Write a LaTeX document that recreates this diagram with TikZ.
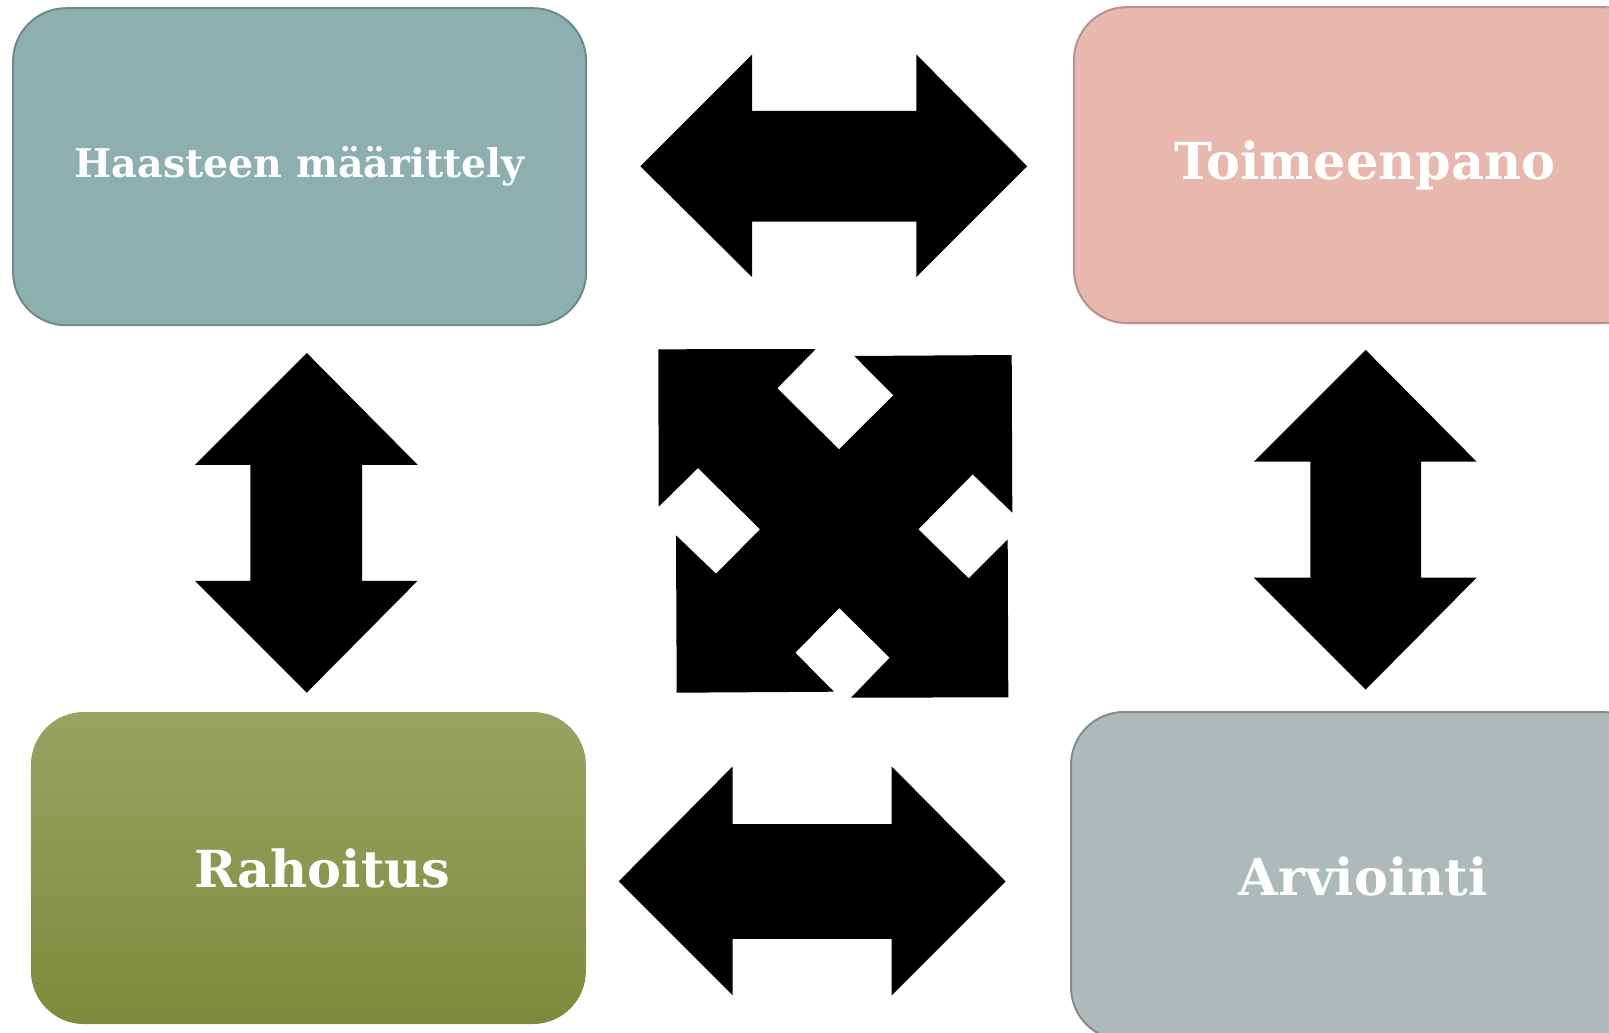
\documentclass[tikz,border=0pt]{standalone}
\usepackage{fontspec}
\setmainfont{DejaVu Serif}

\definecolor{tealfill}{RGB}{141,175,175}
\definecolor{tealline}{RGB}{109,139,138}
\definecolor{rosefill}{RGB}{232,184,175}
\definecolor{roseline}{RGB}{181,146,139}
\definecolor{olivetop}{RGB}{152,163,99}
\definecolor{olivebot}{RGB}{126,138,59}
\definecolor{greyfill}{RGB}{173,186,185}
\definecolor{greyline}{RGB}{127,142,141}

\tikzset{
  vaihe/.style={rectangle, rounded corners=53pt, inner sep=0pt, line width=2pt,
    text=white, font=\bfseries\fontsize{51}{60}\selectfont},
  nuoli/.style={fill=black},
}

\begin{document}
\begin{tikzpicture}[x=1pt, y=-1pt]
    \useasboundingbox (0,0) rectangle (1609,1033);

    % Laatikot
    \node[vaihe, fill=tealfill, draw=tealline, minimum width=573pt, minimum height=317pt,
        font=\bfseries\fontsize{39.5}{46}\selectfont] (haaste) at (299.6,166.7) {\raisebox{-5pt}{Haasteen määrittely}};
    \node[vaihe, fill=rosefill, draw=roseline, minimum width=582pt, minimum height=316pt] (toimeen) at (1365,165.1) {\raisebox{-6pt}{Toimeenpano}};
    \node[vaihe, top color=olivetop, bottom color=olivebot, minimum width=555pt, minimum height=312pt] (rahoitus) at (308.4,868) {\hspace*{28pt}\raisebox{-4pt}{Rahoitus}};
    \node[vaihe, fill=greyfill, draw=greyline, minimum width=584pt, minimum height=328pt] (arviointi) at (1363,876) {\raisebox{-2pt}{Arviointi}};

    % Vaakanuolet
    \fill[nuoli] (640.3,166.2) -- (752.1,54.4) -- (752.1,110.8) -- (916.3,110.8) -- (916.3,54.4) -- (1027.1,166.2)
        -- (916.3,277.1) -- (916.3,221.6) -- (752.1,221.6) -- (752.1,277.1) -- cycle; % ylhaalla
    \fill[nuoli] (618.7,881.4) -- (732.6,766.5) -- (732.6,824) -- (891.7,824) -- (891.7,766.5) -- (1005.6,881.4)
        -- (891.7,995.3) -- (891.7,938.9) -- (732.6,938.9) -- (732.6,995.3) -- cycle; % alhaalla

    % Pystynuolet
    \fill[nuoli] (306.8,353) -- (417.6,464.8) -- (362.2,464.8) -- (362.2,580.8) -- (417.6,580.8) -- (306.8,692.6)
        -- (195,580.8) -- (250.4,580.8) -- (250.4,464.8) -- (195,464.8) -- cycle; % vasen
    \fill[nuoli] (1365.7,349.9) -- (1476.6,461.7) -- (1421.2,461.7) -- (1421.2,577.7) -- (1476.6,577.7) -- (1365.7,689.5)
        -- (1253.9,577.7) -- (1310.3,577.7) -- (1310.3,461.7) -- (1253.9,461.7) -- cycle; % oikea

    % Nelisuuntainen nuoli keskella
    \fill[nuoli] (658.3,349.3) -- (815.7,349) -- (777.3,388.3) -- (839,449.3) -- (893.3,395.3) -- (854.3,356)
        -- (1011.7,355) -- (1012.3,512.7) -- (972.7,474.3) -- (918.3,529.3) -- (968.7,578.3) -- (1007.7,539.3)
        -- (1008.3,697.3) -- (851,697.7) -- (889.7,657.7) -- (839.3,608) -- (795.3,652.7) -- (834,691.7)
        -- (676.7,692.7) -- (676,535.3) -- (716,573.7) -- (760,529.3) -- (698,468) -- (658.7,506.7) -- cycle;
\end{tikzpicture}
\end{document}
